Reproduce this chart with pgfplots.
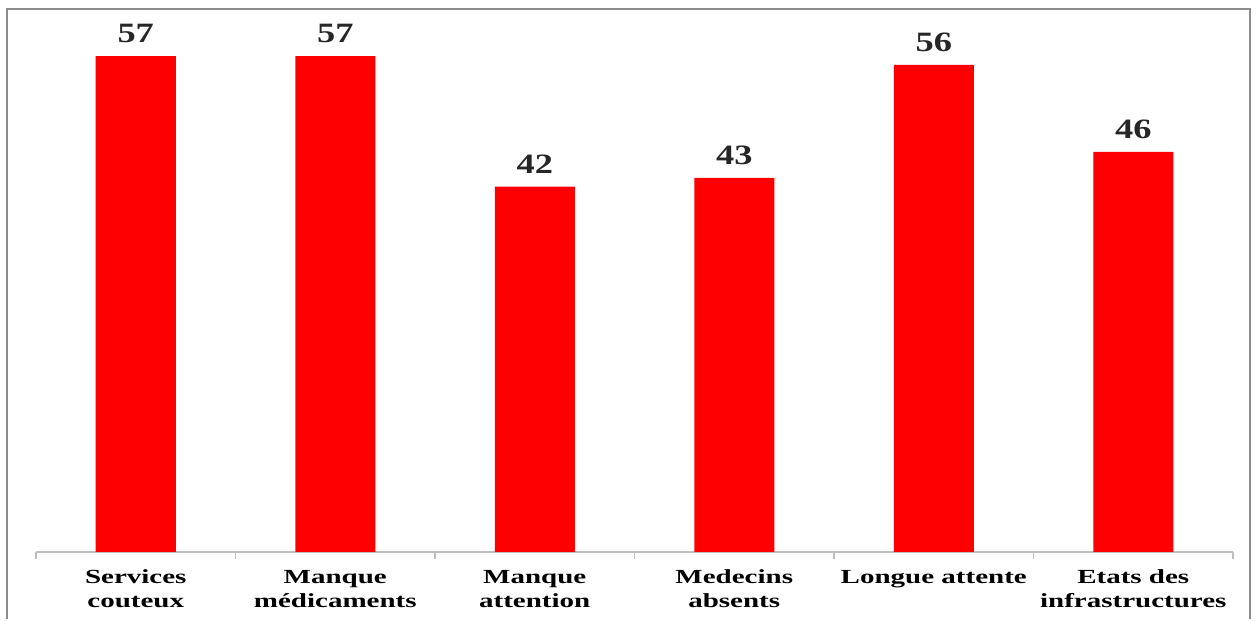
\documentclass[border=0pt]{standalone}
\usepackage{pgfplots}
\pgfplotsset{compat=1.18}
\usepackage{fontspec}
\setmainfont[FakeStretch=1.45]{Liberation Serif}
\newfontfamily\valfont[FakeStretch=1.3]{Liberation Serif}
\definecolor{barred}{RGB}{255,0,0}
\definecolor{framegray}{RGB}{140,140,140}
\definecolor{axgray}{RGB}{190,190,190}
\begin{document}
\begin{tikzpicture}
\begin{axis}[
  scale only axis,
  width=598.5pt, height=266pt,
  xmin=-0.5, xmax=5.5,
  ymin=0, ymax=61.15,
  axis x line*=bottom,
  axis y line=none,
  x axis line style={draw=axgray, line width=0.8pt},
  ytick=\empty,
  xtick={0,1,2,3,4,5},
  xticklabels={{Services\\couteux},{Manque\\médicaments},{Manque\\attention},{Medecins\\absents},{Longue attente},{Etats des\\infrastructures}},
  major tick length=0pt,
  tick align=outside,
  xticklabel style={align=center, font=\bfseries\fontsize{10}{12}\selectfont, yshift=-5.5pt},
  extra x ticks={-0.5,0.5,1.5,2.5,3.5,4.5,5.5},
  extra x tick labels={},
  extra x tick style={major tick length=3.5pt, tick style={draw=axgray, line width=0.8pt}},
  clip=false,
]
\addplot[ybar, bar width=40pt, fill=barred, draw=none,
  nodes near coords,
  /pgf/number format/assume math mode=true,
  every node near coord/.append style={font=\valfont\bfseries\fontsize{14}{16}\selectfont, inner sep=0pt, yshift=6.5pt, text=black!85}]
  coordinates {(0,57) (1,57) (2,42) (3,43) (4,56) (5,46)};
\end{axis}
\draw[framegray, line width=1pt]
  ([xshift=-14.5pt,yshift=-33.5pt]current axis.south west) --
  ([xshift=-14.5pt,yshift=5.5pt]current axis.north west) --
  ([xshift=8.5pt,yshift=5.5pt]current axis.north east) --
  ([xshift=8.5pt,yshift=-33.5pt]current axis.south east);
\path[use as bounding box] ([xshift=-18pt,yshift=-33.5pt]current axis.south west) rectangle ([xshift=11.5pt,yshift=10pt]current axis.north east);
\end{tikzpicture}
\end{document}
